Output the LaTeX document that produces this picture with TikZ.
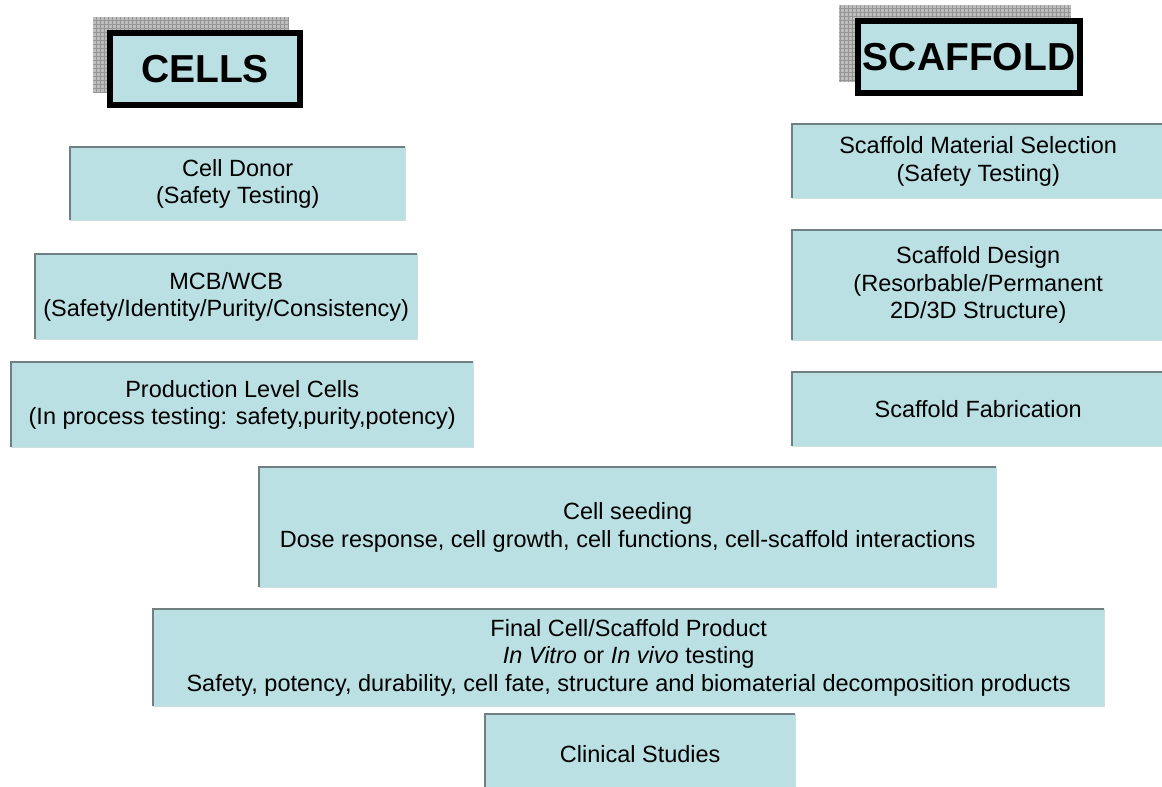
\documentclass[tikz,border=0pt]{standalone}
\usepackage{fontspec}
\setmainfont{Liberation Sans}
\definecolor{boxfill}{RGB}{186,224,227}
\definecolor{boxedge}{RGB}{112,128,130}
\definecolor{boxshade}{RGB}{205,222,224}
\definecolor{hatchbg}{RGB}{190,190,190}
\definecolor{hatchln}{RGB}{150,150,150}
\begin{document}
\begin{tikzpicture}[x=1pt,y=-1pt,
  stagebox/.style={rectangle, fill=boxfill, draw=none, anchor=north west, inner sep=0pt,
    align=center, font=\fontsize{23.5}{27.5}\selectfont},
  headbox/.style={rectangle, fill=boxfill, draw=black, line width=6pt, anchor=north west,
    inner sep=0pt, font=\fontsize{39}{44}\selectfont\bfseries},
  edgeline/.style={draw=boxedge, line width=1.4pt},
  shadeline/.style={draw=boxshade, line width=1.6pt}
]
\useasboundingbox (0,0) rectangle (1162,787);
\clip (0,0) rectangle (1162,787);

% hatched shadows of the headers
\fill[hatchbg] (93,17) rectangle (288,93);
\draw[hatchln, step=4pt, line width=0.5pt] (93,17) grid (288,93);
\fill[hatchbg] (839,5) rectangle (1071,82);
\draw[hatchln, step=4pt, line width=0.5pt] (839,5) grid (1071,82);

% headers
\node[headbox, minimum width=190pt, minimum height=72pt] (cells) at (107,30) {CELLS};
\node[headbox, minimum width=222pt, minimum height=72pt] (scaf) at (855,18) {SCAFFOLD};

% stage boxes
\node[stagebox, minimum width=335pt, minimum height=73pt] (donor) at (70,147)
  {Cell Donor\\(Safety Testing)};
\node[stagebox, minimum width=382pt, minimum height=85pt] (mcb) at (35,254)
  {MCB/WCB\\(Safety/Identity/Purity/Consistency)};
\node[stagebox, minimum width=462pt, minimum height=85pt] (prod) at (11,362)
  {Production Level Cells\\(In process testing: safety,purity,potency)};

\node[stagebox, minimum width=372pt, minimum height=74pt] (mat) at (792,124)
  {Scaffold Material Selection\\(Safety Testing)};
\node[stagebox, minimum width=372pt, minimum height=110pt] (design) at (792,230)
  {Scaffold Design\\(Resorbable/Permanent\\2D/3D Structure)};
\node[stagebox, minimum width=372pt, minimum height=74pt] (fab) at (792,372)
  {Scaffold Fabrication};

\node[stagebox, minimum width=737pt, minimum height=120pt] (seed) at (259,467)
  {Cell seeding\\Dose response, cell growth, cell functions, cell-scaffold interactions};
\node[stagebox, minimum width=951pt, minimum height=97pt] (final) at (153,609)
  {Final Cell/Scaffold Product\\\textit{In Vitro} or \textit{In vivo} testing\\Safety, potency, durability, cell fate, structure and biomaterial decomposition products};
\node[stagebox, minimum width=310pt, minimum height=80pt] (clin) at (485,714)
  {Clinical Studies};

% box edges: dark top/left, light right/bottom
\foreach \n in {donor,mcb,prod,mat,design,fab,seed,final,clin}{
  \draw[shadeline] (\n.north east) -- (\n.south east) -- (\n.south west);
  \draw[edgeline] (\n.south west) -- (\n.north west) -- (\n.north east);
}
\end{tikzpicture}
\end{document}
